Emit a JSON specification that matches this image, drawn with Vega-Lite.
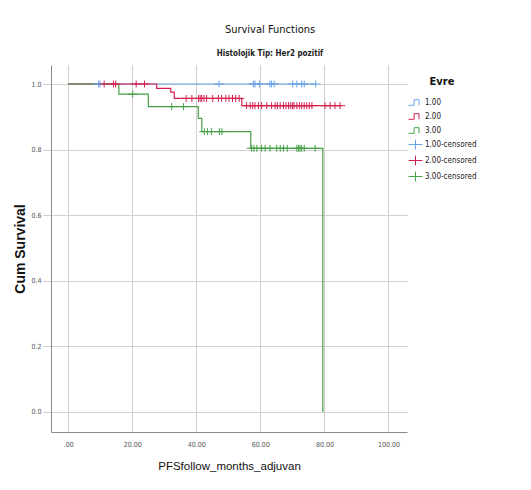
{
  "$schema": "https://vega.github.io/schema/vega-lite/v6.json",
  "width": 356,
  "height": 367,
  "autosize": "none",
  "padding": {"left": 51, "top": 65, "right": 124, "bottom": 58},
  "background": "white",
  "title": {
    "text": "Survival Functions",
    "subtitle": "Histolojik Tip: Her2 pozitif",
    "anchor": "middle",
    "frame": "group",
    "dx": 41,
    "offset": 7,
    "font": "DejaVu Sans Condensed, Liberation Sans",
    "fontSize": 11,
    "fontWeight": "normal",
    "color": "#111",
    "subtitleFont": "DejaVu Sans Condensed, Liberation Sans",
    "subtitleFontSize": 8,
    "subtitleFontWeight": "bold",
    "subtitleColor": "#222",
    "subtitlePadding": 15
  },
  "config": {
    "view": {"stroke": null},
    "axis": {
      "gridColor": "#cfcfcf",
      "gridWidth": 1,
      "domainColor": "#8a8a8a",
      "tickColor": "#cfcfcf",
      "labelFont": "DejaVu Sans Condensed, Liberation Sans",
      "labelFontSize": 7,
      "labelColor": "#555555"
    },
    "legend": {
      "labelFont": "DejaVu Sans Condensed, Liberation Sans",
      "titleFont": "DejaVu Sans Condensed, Liberation Sans"
    }
  },
  "datasets": {
    "curves": [
      {"series": "1.00", "time": 0, "surv": 1},
      {"series": "1.00", "time": 77.4, "surv": 1},
      {"series": "2.00", "time": 0, "surv": 1},
      {"series": "2.00", "time": 27.6, "surv": 0.987},
      {"series": "2.00", "time": 32.0, "surv": 0.975},
      {"series": "2.00", "time": 33.1, "surv": 0.956},
      {"series": "2.00", "time": 54.2, "surv": 0.934},
      {"series": "2.00", "time": 85.4, "surv": 0.934},
      {"series": "3.00", "time": 0, "surv": 1},
      {"series": "3.00", "time": 15.8, "surv": 0.969},
      {"series": "3.00", "time": 25.0, "surv": 0.931},
      {"series": "3.00", "time": 40.6, "surv": 0.895},
      {"series": "3.00", "time": 41.7, "surv": 0.855},
      {"series": "3.00", "time": 57.0, "surv": 0.804},
      {"series": "3.00", "time": 79.5, "surv": 0.0}
    ],
    "censored": [
      {"series": "1.00-censored", "time": 9.4, "surv": 1},
      {"series": "1.00-censored", "time": 9.9, "surv": 1},
      {"series": "1.00-censored", "time": 47.1, "surv": 1},
      {"series": "1.00-censored", "time": 57.8, "surv": 1},
      {"series": "1.00-censored", "time": 58.3, "surv": 1},
      {"series": "1.00-censored", "time": 59.7, "surv": 1},
      {"series": "1.00-censored", "time": 63.0, "surv": 1},
      {"series": "1.00-censored", "time": 63.5, "surv": 1},
      {"series": "1.00-censored", "time": 64.3, "surv": 1},
      {"series": "1.00-censored", "time": 70.1, "surv": 1},
      {"series": "1.00-censored", "time": 71.4, "surv": 1},
      {"series": "1.00-censored", "time": 72.9, "surv": 1},
      {"series": "1.00-censored", "time": 73.7, "surv": 1},
      {"series": "1.00-censored", "time": 77.3, "surv": 1},
      {"series": "2.00-censored", "time": 11.2, "surv": 1},
      {"series": "2.00-censored", "time": 14.1, "surv": 1},
      {"series": "2.00-censored", "time": 14.8, "surv": 1},
      {"series": "2.00-censored", "time": 21.2, "surv": 1},
      {"series": "2.00-censored", "time": 23.8, "surv": 1},
      {"series": "2.00-censored", "time": 36.8, "surv": 0.956},
      {"series": "2.00-censored", "time": 38.6, "surv": 0.956},
      {"series": "2.00-censored", "time": 40.7, "surv": 0.956},
      {"series": "2.00-censored", "time": 41.2, "surv": 0.956},
      {"series": "2.00-censored", "time": 41.7, "surv": 0.956},
      {"series": "2.00-censored", "time": 42.4, "surv": 0.956},
      {"series": "2.00-censored", "time": 43.2, "surv": 0.956},
      {"series": "2.00-censored", "time": 45.1, "surv": 0.956},
      {"series": "2.00-censored", "time": 46.9, "surv": 0.956},
      {"series": "2.00-censored", "time": 47.9, "surv": 0.956},
      {"series": "2.00-censored", "time": 49.2, "surv": 0.956},
      {"series": "2.00-censored", "time": 50.2, "surv": 0.956},
      {"series": "2.00-censored", "time": 51.3, "surv": 0.956},
      {"series": "2.00-censored", "time": 52.3, "surv": 0.956},
      {"series": "2.00-censored", "time": 53.4, "surv": 0.956},
      {"series": "2.00-censored", "time": 55.7, "surv": 0.934},
      {"series": "2.00-censored", "time": 56.8, "surv": 0.934},
      {"series": "2.00-censored", "time": 57.6, "surv": 0.934},
      {"series": "2.00-censored", "time": 58.3, "surv": 0.934},
      {"series": "2.00-censored", "time": 59.4, "surv": 0.934},
      {"series": "2.00-censored", "time": 60.4, "surv": 0.934},
      {"series": "2.00-censored", "time": 62.0, "surv": 0.934},
      {"series": "2.00-censored", "time": 63.5, "surv": 0.934},
      {"series": "2.00-censored", "time": 64.6, "surv": 0.934},
      {"series": "2.00-censored", "time": 65.3, "surv": 0.934},
      {"series": "2.00-censored", "time": 66.2, "surv": 0.934},
      {"series": "2.00-censored", "time": 67.2, "surv": 0.934},
      {"series": "2.00-censored", "time": 68.0, "surv": 0.934},
      {"series": "2.00-censored", "time": 68.8, "surv": 0.934},
      {"series": "2.00-censored", "time": 69.5, "surv": 0.934},
      {"series": "2.00-censored", "time": 70.1, "surv": 0.934},
      {"series": "2.00-censored", "time": 70.5, "surv": 0.934},
      {"series": "2.00-censored", "time": 71.4, "surv": 0.934},
      {"series": "2.00-censored", "time": 72.2, "surv": 0.934},
      {"series": "2.00-censored", "time": 72.9, "surv": 0.934},
      {"series": "2.00-censored", "time": 73.7, "surv": 0.934},
      {"series": "2.00-censored", "time": 74.5, "surv": 0.934},
      {"series": "2.00-censored", "time": 75.3, "surv": 0.934},
      {"series": "2.00-censored", "time": 76.1, "surv": 0.934},
      {"series": "2.00-censored", "time": 80.2, "surv": 0.934},
      {"series": "2.00-censored", "time": 81.8, "surv": 0.934},
      {"series": "2.00-censored", "time": 83.3, "surv": 0.934},
      {"series": "2.00-censored", "time": 84.9, "surv": 0.934},
      {"series": "3.00-censored", "time": 20.1, "surv": 0.969},
      {"series": "3.00-censored", "time": 32.3, "surv": 0.931},
      {"series": "3.00-censored", "time": 36.0, "surv": 0.931},
      {"series": "3.00-censored", "time": 42.5, "surv": 0.855},
      {"series": "3.00-censored", "time": 43.5, "surv": 0.855},
      {"series": "3.00-censored", "time": 44.7, "surv": 0.855},
      {"series": "3.00-censored", "time": 47.2, "surv": 0.855},
      {"series": "3.00-censored", "time": 48.0, "surv": 0.855},
      {"series": "3.00-censored", "time": 57.3, "surv": 0.804},
      {"series": "3.00-censored", "time": 58.0, "surv": 0.804},
      {"series": "3.00-censored", "time": 58.9, "surv": 0.804},
      {"series": "3.00-censored", "time": 60.4, "surv": 0.804},
      {"series": "3.00-censored", "time": 61.5, "surv": 0.804},
      {"series": "3.00-censored", "time": 63.0, "surv": 0.804},
      {"series": "3.00-censored", "time": 65.1, "surv": 0.804},
      {"series": "3.00-censored", "time": 66.2, "surv": 0.804},
      {"series": "3.00-censored", "time": 67.2, "surv": 0.804},
      {"series": "3.00-censored", "time": 68.4, "surv": 0.804},
      {"series": "3.00-censored", "time": 71.4, "surv": 0.804},
      {"series": "3.00-censored", "time": 71.9, "surv": 0.804},
      {"series": "3.00-censored", "time": 72.4, "surv": 0.804},
      {"series": "3.00-censored", "time": 72.9, "surv": 0.804},
      {"series": "3.00-censored", "time": 73.7, "surv": 0.804},
      {"series": "3.00-censored", "time": 77.1, "surv": 0.804}
    ]
  },
  "encoding": {
    "x": {
      "field": "time",
      "type": "quantitative",
      "scale": {"domain": [-5.4, 105.8], "nice": false, "zero": false},
      "axis": {
        "title": "PFSfollow_months_adjuvan",
        "titleFont": "Liberation Sans",
        "titleFontSize": 11.5,
        "titleFontWeight": "normal",
        "titleColor": "#111",
        "titlePadding": 13,
        "values": [0, 20, 40, 60, 80, 100],
        "labelExpr": "datum.value == 0 ? '.00' : format(datum.value, '.2f')",
        "ticks": false,
        "labelPadding": 8,
        "grid": true
      }
    },
    "y": {
      "field": "surv",
      "type": "quantitative",
      "scale": {"domain": [-0.061, 1.058], "nice": false, "zero": false},
      "axis": {
        "title": "Cum Survival",
        "titleFont": "Liberation Sans",
        "titleFontSize": 14,
        "titleFontWeight": "bold",
        "titleColor": "#111",
        "titlePadding": 3,
        "values": [0, 0.2, 0.4, 0.6, 0.8, 1.0],
        "format": ".1f",
        "ticks": true,
        "tickSize": 8,
        "labelPadding": 2,
        "grid": true
      }
    }
  },
  "resolve": {"legend": {"color": "shared", "shape": "shared"}},
  "layer": [
    {
      "data": {"name": "curves"},
      "mark": {"type": "line", "interpolate": "step-after", "strokeWidth": 1.2},
      "encoding": {
        "color": {
          "field": "series",
          "type": "nominal",
          "scale": {
            "domain": ["1.00", "2.00", "3.00", "1.00-censored", "2.00-censored", "3.00-censored"],
            "range": ["#6aa3e6", "#d4214f", "#47a047", "#6aa3e6", "#d4214f", "#47a047"]
          }
        },
        "detail": {"field": "series"}
      }
    },
    {
      "data": {"name": "censored"},
      "mark": {"type": "point", "filled": false, "size": 100, "strokeWidth": 1, "opacity": 1},
      "encoding": {
        "color": {
          "field": "series",
          "type": "nominal",
          "legend": {
            "title": "Evre",
            "orient": "none",
            "legendX": 357,
            "legendY": 11,
            "titleFontSize": 11,
            "titleFontWeight": "bold",
            "titleColor": "#111",
            "titleAnchor": "middle",
            "titlePadding": 8,
            "labelFontSize": 8,
            "labelColor": "#222",
            "labelOffset": 2,
            "rowPadding": 1,
            "symbolSize": 196,
            "symbolStrokeWidth": 1,
            "symbolFillColor": "transparent",
            "values": ["1.00", "2.00", "3.00", "1.00-censored", "2.00-censored", "3.00-censored"],
            "encode": {
              "symbols": {
                "update": {
                  "stroke": {"scale": "color", "field": "value"},
                  "strokeOpacity": {"value": 1},
                  "opacity": {"value": 1}
                }
              }
            }
          }
        },
        "shape": {
          "field": "series",
          "type": "nominal",
          "scale": {
            "domain": ["1.00", "2.00", "3.00", "1.00-censored", "2.00-censored", "3.00-censored"],
            "range": [
              "M-1,0.4H-0.2V-0.4H0.5V0.4",
              "M-1,0.4H-0.2V-0.4H0.5V0.4",
              "M-1,0.4H-0.2V-0.4H0.5V0.4",
              "M-1,0H1M0,-0.7V0.7",
              "M-1,0H1M0,-0.7V0.7",
              "M-1,0H1M0,-0.7V0.7"
            ]
          },
          "legend": {
            "title": "Evre",
            "orient": "none",
            "legendX": 357,
            "legendY": 11,
            "titleFontSize": 11,
            "titleFontWeight": "bold",
            "titleColor": "#111",
            "titleAnchor": "middle",
            "titlePadding": 8,
            "labelFontSize": 8,
            "labelColor": "#222",
            "labelOffset": 2,
            "rowPadding": 1,
            "symbolSize": 196,
            "symbolStrokeWidth": 1,
            "symbolFillColor": "transparent",
            "values": ["1.00", "2.00", "3.00", "1.00-censored", "2.00-censored", "3.00-censored"],
            "encode": {
              "symbols": {
                "update": {
                  "stroke": {"scale": "color", "field": "value"},
                  "strokeOpacity": {"value": 1},
                  "opacity": {"value": 1}
                }
              }
            }
          }
        }
      }
    }
  ]
}
